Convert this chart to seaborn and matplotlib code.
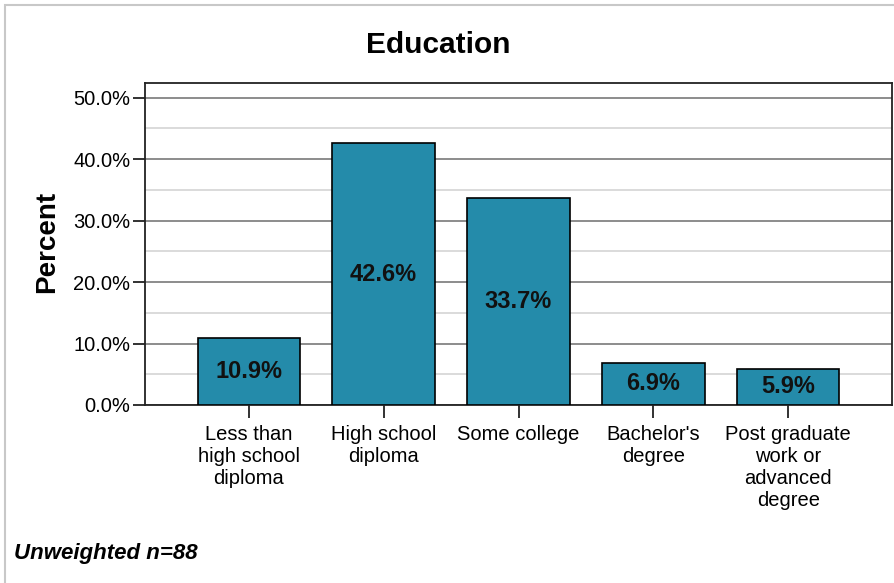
import matplotlib
matplotlib.use("Agg")
import matplotlib.pyplot as plt
import seaborn as sns
import pandas as pd
from matplotlib.patches import Rectangle
from matplotlib.ticker import MultipleLocator, FuncFormatter

categories = ["Less than\nhigh school\ndiploma", "High school\ndiploma", "Some college",
              "Bachelor's\ndegree", "Post graduate\nwork or\nadvanced\ndegree"]
percents = [10.9, 42.6, 33.7, 6.9, 5.9]
value_labels = ["10.9%", "42.6%", "33.7%", "6.9%", "5.9%"]
title = "Education"
footnote = "Unweighted n=88"

sns.set_style("white")
plt.rcParams['font.family'] = ['Liberation Sans', 'DejaVu Sans']
plt.rcParams['text.color'] = 'black'
plt.rcParams['axes.labelcolor'] = 'black'
plt.rcParams['xtick.color'] = 'black'
plt.rcParams['ytick.color'] = 'black'

df = pd.DataFrame({"cat": categories, "pct": percents})

fig = plt.figure(figsize=(8.94, 5.83), dpi=100)
ax = fig.add_axes([145/894, 1-405/583, (892-145)/894, (405-83)/583])

sns.barplot(data=df, x="cat", y="pct", ax=ax, color="#248BAA", saturation=1,
            width=0.76, edgecolor="black", linewidth=1.2, zorder=3)

ax.set_xlim(-0.77, 4.77)
ax.set_ylim(0, 52.4)
ax.yaxis.set_major_locator(MultipleLocator(10))
ax.yaxis.set_minor_locator(MultipleLocator(5))
ax.yaxis.set_major_formatter(FuncFormatter(lambda v, p: f"{v:.1f}%"))
ax.grid(which="major", axis="y", color="#8c8c8c", linewidth=1.4, zorder=0)
ax.grid(which="minor", axis="y", color="#dadada", linewidth=1.4, zorder=0)
ax.set_axisbelow(True)

for s in ax.spines.values():
    s.set_color("#222222")
    s.set_linewidth(1.3)

ax.tick_params(axis="y", which="major", left=True, length=9, width=1.3, color="#222222",
               labelsize=14.5, pad=1.5)
ax.tick_params(axis="y", which="minor", left=False)
ax.tick_params(axis="x", bottom=True, length=9.5, width=1.3, color="#222222", labelsize=14.5, pad=5)
for lab in ax.get_xticklabels():
    lab.set_linespacing(1.2)
ax.set_xlabel("")
ax.set_ylabel("")
fig.text(47/894, 1-242/583, "Percent", rotation=90, ha="center", va="center",
         fontsize=20, fontweight="bold")

for i, (v, t) in enumerate(zip(percents, value_labels)):
    ax.text(i, v / 2, t, ha="center", va="center", fontsize=17, fontweight="bold",
            color="#111111", zorder=4)

fig.text(438/894, 1-45/583, title, ha="center", va="center", fontsize=21.5,
         fontweight="bold")
fig.text(14/894, 1-553/583, footnote, ha="left", va="center", fontsize=16,
         fontweight="bold", fontstyle="italic")

fig.patches.append(Rectangle((5/894, -0.1), 1.2, 1 - 5/583 + 0.1, transform=fig.transFigure,
                             fill=False, edgecolor="#c8c8c8", linewidth=1.5))

fig.savefig("out.png", dpi=100)
